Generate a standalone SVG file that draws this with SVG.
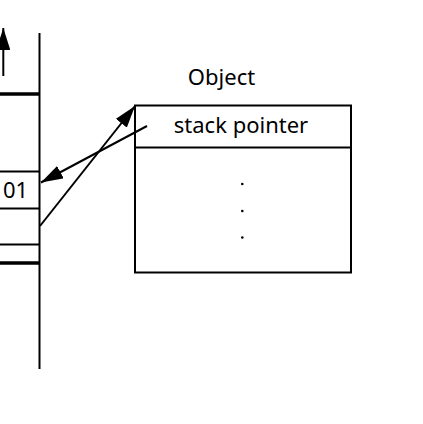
<svg xmlns="http://www.w3.org/2000/svg" width="423" height="424" viewBox="0 0 423 424">
<style>
.ln{stroke:#000;stroke-width:2;fill:none}
.thick{stroke:#000;stroke-width:3.5;fill:none}
.txt{font-family:"Noto Sans","DejaVu Sans",sans-serif;font-size:22px;fill:#000}
</style>
<defs>
<marker id="ah" viewBox="0 0 22 14" refX="22" refY="7" markerWidth="22" markerHeight="14" markerUnits="userSpaceOnUse" orient="auto">
<path d="M0,0 L22,7 L0,14 Z" fill="#000"/>
</marker>
</defs>
<rect width="423" height="424" fill="#fff"/>
<g id="stack">
<line class="ln" x1="39.5" y1="33" x2="39.5" y2="369"/>
<line class="thick" x1="0" y1="94" x2="39.5" y2="94"/>
<line class="ln" x1="0" y1="171.5" x2="39.5" y2="171.5"/>
<line class="ln" x1="0" y1="208.5" x2="39.5" y2="208.5"/>
<line class="ln" x1="0" y1="244.5" x2="39.5" y2="244.5"/>
<line class="thick" x1="0" y1="263" x2="39.5" y2="263"/>
<text class="txt" x="3" y="198">01</text>
</g>
<g id="object">
<text class="txt" x="221.5" y="85" text-anchor="middle">Object</text>
<rect class="ln" x="135" y="105.5" width="216" height="167"/>
<line class="ln" x1="135" y1="147.5" x2="351" y2="147.5"/>
<text class="txt" x="241" y="133" text-anchor="middle">stack pointer</text>
<circle cx="242.3" cy="184" r="1.3" fill="#000"/>
<circle cx="242.3" cy="211" r="1.3" fill="#000"/>
<circle cx="242.3" cy="237.5" r="1.3" fill="#000"/>
</g>
<g id="connectors">
<line class="ln" x1="3.3" y1="76" x2="3.3" y2="28" marker-end="url(#ah)"/>
<line class="ln" x1="147" y1="126" x2="41" y2="182.5" marker-end="url(#ah)"/>
<line class="ln" x1="40" y1="226" x2="135" y2="106" marker-end="url(#ah)"/>
</g>
</svg>
